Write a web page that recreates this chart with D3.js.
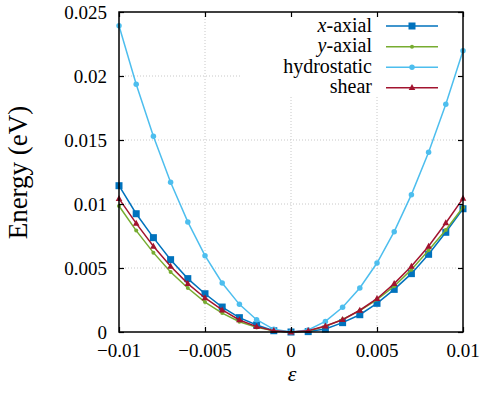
<!DOCTYPE html>
<html><head><meta charset="utf-8">
<script src="https://cdn.jsdelivr.net/npm/d3@7"></script>
<style>
body{margin:0;background:#fff}
#wrap{position:relative;width:481px;height:400px;overflow:hidden}
svg{display:block;position:absolute;left:0;top:0}
</style>
</head><body><div id="wrap"><svg id="c" width="481" height="400"></svg></div>
<script>
const strain = [-0.01,-0.009,-0.008,-0.007,-0.006,-0.005,-0.004,-0.003,-0.002,-0.001,0,0.001,0.002,0.003,0.004,0.005,0.006,0.007,0.008,0.009,0.01];
const xAxial = [0.01143,0.00924,0.00737,0.00565,0.00417,0.00299,0.00195,0.00112,0.00055,0.0001,0,0.00003,0.00023,0.00073,0.00135,0.00224,0.00333,0.00456,0.00607,0.00779,0.00963];
const yAxial = [0.00984,0.00792,0.0062,0.00469,0.00344,0.00234,0.00148,0.0008,0.00036,0.00009,0,0.00008,0.00044,0.00099,0.00167,0.00253,0.00357,0.00487,0.00638,0.00797,0.00974];
const hydrostatic = [0.02393,0.01935,0.0153,0.0117,0.0086,0.00596,0.00383,0.00216,0.00096,0.00021,0,0.00016,0.00083,0.00193,0.00344,0.00539,0.00784,0.01073,0.01404,0.01779,0.02198];
const shear = [0.01042,0.00849,0.0067,0.00513,0.00378,0.00266,0.00172,0.00094,0.00042,0.0001,0,0.0001,0.00047,0.00096,0.0017,0.0026,0.00378,0.00513,0.0067,0.00852,0.01044];
const xTicks = [-0.01,-0.005,0,0.005,0.01];
const xTickLabels = ["\u22120.01","\u22120.005","0","0.005","0.01"];
const yTicks = [0,0.005,0.01,0.015,0.02,0.025];
const yTickLabels = ["0","0.005","0.01","0.015","0.02","0.025"];

const series = [
  {name:"x-axial", it:"x", data:xAxial, color:"#0072bd", marker:"square", size:7},
  {name:"y-axial", it:"y", data:yAxial, color:"#77ac30", marker:"circle", size:4},
  {name:"hydrostatic", data:hydrostatic, color:"#4dbeee", marker:"circle", size:5.5},
  {name:"shear", data:shear, color:"#a2142f", marker:"triangle", size:6}
];

const L=119, R=463, T=12, B=332;
const x = d3.scaleLinear().domain([-0.01,0.01]).range([L,R]);
const y = d3.scaleLinear().domain([0,0.025]).range([B,T]);
const svg = d3.select("#c");
const wrap = d3.select("#wrap");

function label(txt, px, baseline, size, lh, anchor){
  const d = wrap.append("div")
    .style("position","absolute").style("white-space","nowrap")
    .style("font-family","'Liberation Serif'").style("color","#000")
    .style("font-size",size+"px").style("line-height",lh+"px")
    .style("left",px+"px").style("top",(baseline-(lh/2+0.3375*size))+"px")
    .style("transform", anchor==="middle"?"translateX(-50%)":anchor==="end"?"translateX(-100%)":"none");
  if(txt!==null) d.text(txt);
  return d;
}

// grid
const g = svg.append("g");
g.selectAll(".gx").data(xTicks.slice(1,-1)).enter().append("line")
  .attr("x1",d=>x(d)).attr("x2",d=>x(d)).attr("y1",B).attr("y2",T)
  .attr("stroke","#c8c8c8").attr("stroke-width",1).attr("stroke-dasharray","1,2");
g.selectAll(".gy").data(yTicks.slice(1,-1)).enter().append("line")
  .attr("x1",L).attr("x2",R).attr("y1",d=>y(d)).attr("y2",d=>y(d))
  .attr("stroke","#c8c8c8").attr("stroke-width",1).attr("stroke-dasharray","1,2");
svg.append("rect").attr("x",240).attr("y",T+1).attr("width",R-241).attr("height",84).attr("fill","#fff");

function drawMarker(sel, type, size, color){
  if(type==="square"){
    sel.append("rect").attr("x",-size/2).attr("y",-size/2).attr("width",size).attr("height",size).attr("fill",color);
  } else if(type==="circle"){
    sel.append("circle").attr("r",size/2).attr("fill",color);
  } else {
    const s=size;
    sel.append("path").attr("d",`M0,${-s*0.6}L${s*0.55},${s*0.4}L${-s*0.55},${s*0.4}Z`).attr("fill",color);
  }
}

const line = d3.line().x((d,i)=>x(strain[i])).y(d=>y(d));
series.forEach(s=>{
  svg.append("path").datum(s.data).attr("d",line).attr("fill","none").attr("stroke",s.color).attr("stroke-width",1.5);
  s.data.forEach((v,i)=>{
    const m = svg.append("g").attr("transform",`translate(${x(strain[i])},${y(v)})`);
    drawMarker(m,s.marker,s.size,s.color);
  });
});

const tl=5;
function style(gg){gg.select(".domain").remove();gg.selectAll("text").remove();gg.selectAll("line").attr("stroke","#000").attr("stroke-width",1.2);}
svg.append("g").attr("transform",`translate(0,${B})`).call(d3.axisBottom(x).tickValues(xTicks).tickSize(-tl)).call(style);
svg.append("g").attr("transform",`translate(0,${T})`).call(d3.axisTop(x).tickValues(xTicks).tickSize(-tl)).call(style);
svg.append("g").attr("transform",`translate(${L},0)`).call(d3.axisLeft(y).tickValues(yTicks).tickSize(-tl)).call(style);
svg.append("g").attr("transform",`translate(${R},0)`).call(d3.axisRight(y).tickValues(yTicks).tickSize(-tl)).call(style);
svg.append("rect").attr("x",L).attr("y",T).attr("width",R-L).attr("height",B-T).attr("fill","none").attr("stroke","#000").attr("stroke-width",1.5);

xTicks.forEach((t,i)=>label(xTickLabels[i], x(t), 357, 19, 15, "middle"));
yTicks.forEach((t,i)=>label(yTickLabels[i], 107, y(t)+6.5, 19, 15, "end"));

const W=240, fs=27;
wrap.append("div").text("Energy (eV)")
  .style("position","absolute").style("white-space","nowrap")
  .style("font-family","'Liberation Serif'").style("color","#000")
  .style("font-size",fs+"px").style("line-height",fs+"px").style("width",W+"px").style("text-align","center")
  .style("left",(18-W/2)+"px").style("top",(172-fs/2)+"px").style("transform","rotate(-90deg)");
label("\u03b5", 292, 381, 22, 18, "middle").style("font-style","italic");

const ky=[26,46.7,67.3,87.7];
series.forEach((s,i)=>{
  const t = label(null, 372, ky[i]+6, 20, 17, "end");
  if(s.it){ t.append("span").style("font-style","italic").text(s.it); t.append("span").text(s.name.slice(1)); }
  else t.text(s.name);
  svg.append("line").attr("x1",386).attr("x2",438).attr("y1",ky[i]).attr("y2",ky[i]).attr("stroke",s.color).attr("stroke-width",1.5);
  const m = svg.append("g").attr("transform",`translate(412,${ky[i]})`);
  drawMarker(m,s.marker,s.size,s.color);
});
</script></body></html>
